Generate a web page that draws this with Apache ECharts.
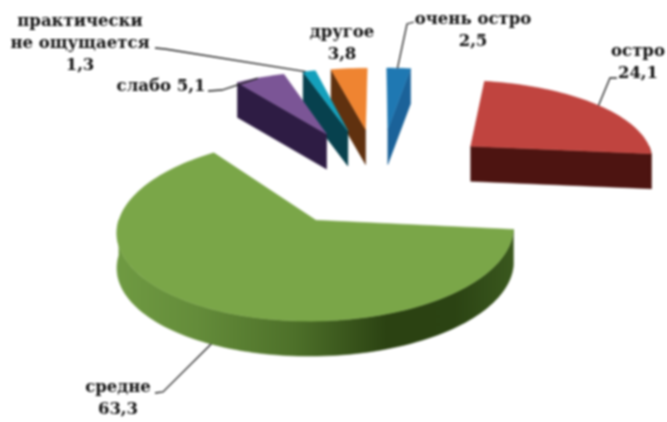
<!DOCTYPE html>
<html><head><meta charset="utf-8">
<script src="https://cdn.jsdelivr.net/npm/echarts@6/dist/echarts.min.js"></script>
<style>html,body{margin:0;padding:0;background:#fff}#c{width:667px;height:422px;filter:blur(0.8px)}</style>
</head><body><div id="c"></div>
<script>
// Data, clockwise from 12 o'clock
const categories = ['очень остро','остро','средне','слабо','практически не ощущается','другое'];
const values = [2.5,24.1,63.3,5.1,1.3,3.8];

// Styles
const topColors = ['#1f78b2','#c0443f','#7aa648','#7b5596','#14a0bc','#ef8431'];
const wallColors = ['#1b6299','#4d1411','#2e4714','#2e1c44','#07414e','#60310f'];
const labelLines = [['очень остро','2,5'],['остро','24,1'],['средне','63,3'],['слабо 5,1'],['практически','не ощущается','1,3'],['другое','3,8']];
const labelCentres = [[473,20],[638,52],[118,388],[161,87],[80,22],[342,33]];
const leaderFrac = [0.45,0.52,0.49,0.45,0.2,null];
const leaderElbows = [[[407,24],[414,22]],[[610,78],[617,78]],[[163,392],[155,393]],[[222,90],[208,91]],[[165,49],[155,48]],[]];

// Projection
const CX=379, CY=175, A=186, B=81.8, P=0.114, DEPTH=35, EXPLODE_X=0.65, EXPLODE_Z=0.6;
const total = values.reduce((a,b)=>a+b,0);
const TAU=Math.PI*2;
const slices=[]; let acc=0;
values.forEach((v,i)=>{const s=acc/total*TAU; acc+=v; const e=acc/total*TAU; slices.push({i,s,e,m:(s+e)/2});});
const order = slices.slice().sort((a,b)=>Math.cos(b.m)-Math.cos(a.m));
function proj(sl,r,t,d){
  const X=EXPLODE_X*Math.sin(sl.m)+r*Math.sin(t), Z=-(EXPLODE_Z*Math.cos(sl.m)+r*Math.cos(t));
  const k=1+P*Z;
  return [CX+A*X*k, CY+B*Z*k+(d?DEPTH:0)];
}
function arc(sl,a,b,d){const n=Math.max(2,Math.ceil((b-a)/0.03));const o=[];for(let j=0;j<=n;j++)o.push(proj(sl,1,a+(b-a)*j/n,d));return o;}
const greenWall={type:'linear',x:0,y:0,x2:1,y2:0,colorStops:[{offset:0,color:'#6f9a42'},{offset:0.2,color:'#648c3a'},{offset:0.45,color:'#4d7029'},{offset:0.68,color:'#2b4212'},{offset:0.85,color:'#2b4313'},{offset:1,color:'#3a581e'}]};

function renderSlice(params){
  const sl=order[params.dataIndex], kids=[];
  const wall=sl.i===2?greenWall:wallColors[sl.i];
  const poly=(pts,fill)=>kids.push({type:'polygon',shape:{points:pts},style:{fill,stroke:fill,lineWidth:0.5}});
  const radial=t=>poly([proj(sl,0,0,0),proj(sl,1,t,0),proj(sl,1,t,1),proj(sl,0,0,1)],wallColors[sl.i]);
  if(Math.sin(sl.s)<-1e-6) radial(sl.s);
  if(Math.sin(sl.e)>1e-6) radial(sl.e);
  // outer wall: part of the rim facing the viewer (pi/2..3pi/2)
  const a=Math.max(sl.s,Math.PI/2), b=Math.min(sl.e,Math.PI*1.5);
  if(b>a) poly(arc(sl,a,b,0).concat(arc(sl,a,b,1).reverse()),wall);
  poly([proj(sl,0,0,0)].concat(arc(sl,sl.s,sl.e,0)),topColors[sl.i]);
  return {type:'group',children:kids};
}
function renderLabel(params){
  const i=params.dataIndex, sl=slices[i], kids=[];
  const lines=labelLines[i], c=labelCentres[i];
  if(leaderFrac[i]!==null){
    const p=proj(sl,1,sl.s+(sl.e-sl.s)*leaderFrac[i],i===2?1:0);
    kids.push({type:'polyline',shape:{points:[p].concat(leaderElbows[i])},style:{fill:null,stroke:'#222',lineWidth:1.3}});
  }
  lines.forEach((t,j)=>kids.push({type:'text',style:{text:t,x:c[0],y:c[1]+j*22,align:'center',verticalAlign:'middle',fill:'#111',font:'bold 16.5px "DejaVu Serif"'}}));
  return {type:'group',children:kids};
}
const chart=echarts.init(document.getElementById('c'),null,{renderer:'canvas'});
chart.setOption({
  animation:false,
  backgroundColor:'#fff',
  series:[
    {type:'custom',coordinateSystem:'none',renderItem:renderSlice,data:order.map(o=>values[o.i]),silent:true,z:1},
    {type:'custom',coordinateSystem:'none',renderItem:renderLabel,data:categories.map((n,i)=>({name:n,value:values[i]})),silent:true,z:2}
  ]
});
</script></body></html>
